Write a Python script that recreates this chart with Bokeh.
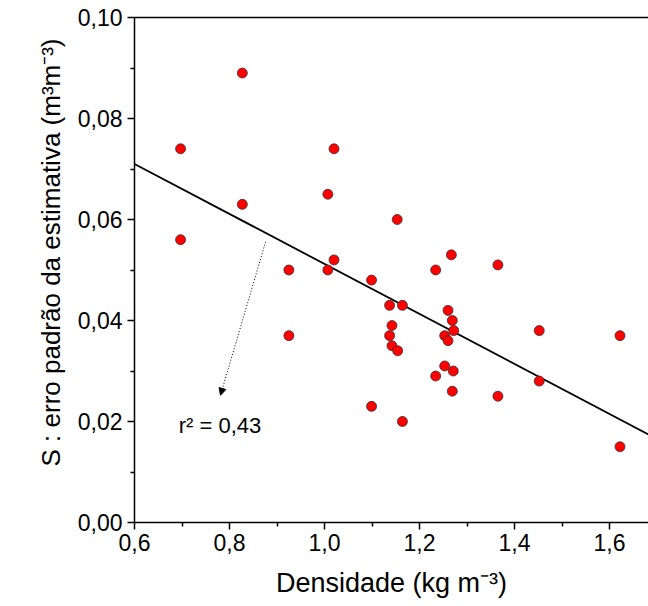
from bokeh.plotting import figure
from bokeh.models import (Range1d, FixedTicker, LinearAxis, Arrow, NormalHead, Title)
from bokeh.core.properties import value
from bokeh.embed import file_html
from bokeh.resources import INLINE

# ---- data ----
densidade = [0.697, 0.697, 0.827, 0.827, 0.925, 0.925, 1.007, 1.007, 1.020, 1.020,
             1.099, 1.099, 1.137, 1.137, 1.142, 1.142, 1.154, 1.153, 1.164, 1.164,
             1.234, 1.234, 1.253, 1.253, 1.260, 1.260, 1.267, 1.269, 1.269, 1.272,
             1.271, 1.365, 1.365, 1.452, 1.452, 1.622, 1.622]
erro_padrao = [0.074, 0.056, 0.089, 0.063, 0.050, 0.037, 0.065, 0.050, 0.074, 0.052,
               0.048, 0.023, 0.043, 0.037, 0.039, 0.035, 0.034, 0.060, 0.043, 0.020,
               0.050, 0.029, 0.037, 0.031, 0.042, 0.036, 0.053, 0.026, 0.040, 0.038,
               0.030, 0.051, 0.025, 0.038, 0.028, 0.037, 0.015]
fit_intercept = 0.1007
fit_slope = -0.0495
r2_text = "r\u00b2 = 0,43"

x_ticks = [0.6, 0.8, 1.0, 1.2, 1.4, 1.6]
x_tick_labels = ["0,6", "0,8", "1,0", "1,2", "1,4", "1,6"]
x_minor = [0.7, 0.9, 1.1, 1.3, 1.5, 1.7]
y_ticks = [0.0, 0.02, 0.04, 0.06, 0.08, 0.10]
y_tick_labels = ["0,00", "0,02", "0,04", "0,06", "0,08", "0,10"]
y_minor = [0.01, 0.03, 0.05, 0.07, 0.09]

x_label = "Densidade (kg m\u207b\u00b3)"
y_label = "S : erro padr\u00e3o da estimativa (m\u00b3m\u207b\u00b3)"

FONT = "Liberation Sans"

p = figure(width=648, height=606, output_backend="svg", toolbar_location=None,
           x_range=Range1d(0.6, 1.682), y_range=Range1d(0.0, 0.1),
           min_border_left=134, min_border_right=0, min_border_top=17,
           min_border_bottom=84, x_axis_label=x_label)
p.outline_line_color = None
p.grid.visible = False
p.background_fill_color = "white"
p.border_fill_color = "white"

for ax, ticks, labels, minor in ((p.xaxis[0], x_ticks, x_tick_labels, x_minor),
                                 (p.yaxis[0], y_ticks, y_tick_labels, y_minor)):
    ax.ticker = FixedTicker(ticks=ticks, minor_ticks=minor)
    ax.major_label_overrides = {t: l for t, l in zip(ticks, labels)}
    ax.axis_line_width = 1.5
    ax.axis_line_color = "black"
    ax.major_tick_line_width = 1.5
    ax.minor_tick_line_width = 1.5
    ax.major_tick_out = 7
    ax.major_tick_in = 0
    ax.minor_tick_out = 4
    ax.minor_tick_in = 0
    ax.major_label_text_font = FONT
    ax.major_label_text_font_size = "23px"
    ax.major_label_text_color = "black"
    ax.axis_label_text_font = FONT
    ax.axis_label_text_font_size = "27px"
    ax.axis_label_text_font_style = "normal"
    ax.axis_label_text_color = "black"

p.xaxis[0].major_label_standoff = 4
p.xaxis[0].axis_label_standoff = 14
p.yaxis[0].major_label_standoff = 5

# y-axis title, starting a little above the bottom of the frame as in the reference
p.add_layout(Title(text=y_label, align="left", offset=56, standoff=18,
                   text_font=FONT, text_font_size="26px",
                   text_font_style="normal", text_color="black"), "left")

# top frame line (no ticks / labels)
top = LinearAxis(ticker=FixedTicker(ticks=[]), major_tick_line_color=None,
                 minor_tick_line_color=None, major_label_text_font_size="0px",
                 axis_line_width=1.5, axis_line_color="black")
p.add_layout(top, "above")

# regression line
fx = [p.x_range.start, 1.7]
fy = [fit_intercept + fit_slope * v for v in fx]
p.line(fx, fy, line_color="black", line_width=1.8)

# points
p.scatter(densidade, erro_padrao, size=10, fill_color="#ff0000",
          line_color="#333333", line_width=0.8)

# dotted arrow + r2 text
p.add_layout(Arrow(x_start=0.876, y_start=0.0556, x_end=0.781, y_end=0.0252,
                   line_dash="1 2", line_width=1, line_color="black",
                   end=NormalHead(size=7, fill_color="black", line_color="black")))
p.text(x=[0.693], y=[0.0193], text=[r2_text], text_font=value(FONT),
       text_font_size="22px", text_baseline="alphabetic", text_color="black")

open("out.html", "w").write(file_html(p, INLINE))
